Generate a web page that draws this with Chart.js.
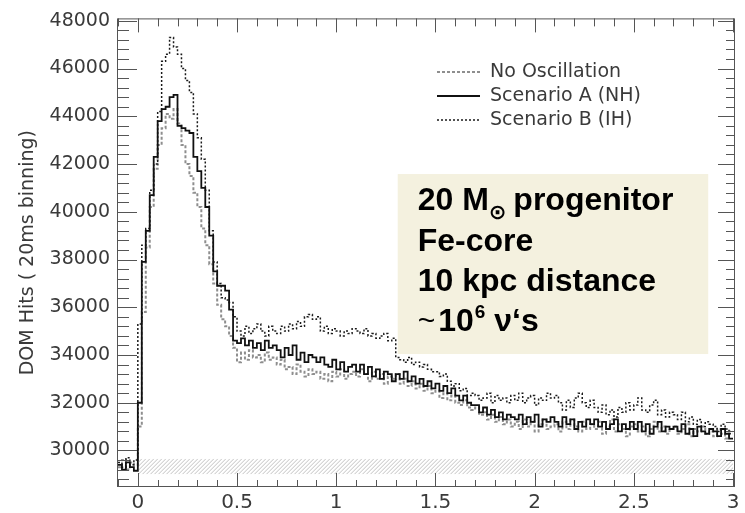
<!DOCTYPE html>
<html>
<head>
<meta charset="utf-8">
<script src="https://cdn.jsdelivr.net/npm/chart.js@4.4.1/dist/chart.umd.min.js"></script>
<style>
  html, body { margin: 0; padding: 0; background: #fff; }
</style>
</head>
<body>
<canvas id="domHitsChart" width="745" height="513"></canvas>
<script>
const binStart = -0.1;
const binWidth = 0.02;
const binEnd = 3.0;

const noOscillation = [
  29300, 29600, 29200, 29500, 29400, 31000, 35800, 38500, 40200, 41800,
  42800, 43500, 44100, 43900, 44300, 43700, 42800, 42000, 41500, 40800,
  40200, 39300, 38600, 37800, 37000, 36100, 35500, 35200, 34800, 34300,
  33700, 34100, 33800, 34200, 33900, 34000, 33700, 34100, 33800, 33900,
  33600, 33800, 33400, 33500, 33200, 33600, 33300, 33100, 33400, 33200,
  33300, 33000, 33200, 32900, 33300, 33100, 33400, 33000, 33200, 33300,
  33100, 33400, 33200, 32900, 33300, 33000, 33200, 32800, 33100, 33000,
  33200, 32800, 33000, 32700, 32900, 32600, 32800, 32500, 32700, 32400,
  32500, 32200, 32400, 32100, 32300, 32000, 31900, 32100, 31800, 31700,
  31800, 31500, 31600, 31300, 31500, 31200, 31400, 31100, 31300, 31000,
  31200, 30900, 31300, 31000, 31200, 30800, 31100, 31300, 30900, 31000,
  31100, 30800, 31200, 30900, 31300, 31000, 30800, 31200, 30900, 31100,
  30900, 31200, 30700, 31000, 31300, 30800, 31100, 30900, 30600, 31000,
  31100, 30800, 31000, 30600, 30900, 31200, 30800, 31000, 30700, 30900,
  31000, 30700, 30900, 31100, 30600, 30900, 30800, 31000, 30700, 30800,
  30600, 30900, 30700, 30500, 30800
];

const scenarioA = [
  29400, 29200, 29500, 29300, 29150, 32000, 37900, 39200, 40700, 42300,
  43800, 44300, 44400, 44800, 44900, 43600, 43500, 43400, 43300, 42300,
  41700, 41000, 40200, 39000, 37500, 36900, 36900, 36700, 35900, 34600,
  34500, 34700, 34400, 34600, 34300, 34500, 34200, 34600, 34300, 34400,
  34200, 33900, 34300, 34000, 34400, 33800, 34100, 33700, 34000, 33900,
  33700, 33900, 33600, 33500, 33800, 33400, 33700, 33300, 33500, 33600,
  33300, 33600, 33200, 33500, 33100, 33400, 33000, 33300, 33200, 32900,
  33200, 33000, 33300, 32900, 33100, 32800, 33000, 32700, 32900, 32600,
  32800, 32500, 32700, 32400, 32600, 32300, 32100, 32300, 32000, 31900,
  31900, 31600, 31800, 31500, 31700, 31400, 31600, 31300, 31500, 31400,
  31300, 31500, 31100, 31400, 31200, 31500, 31000, 31300, 31200, 31400,
  31200, 31000, 31400, 31100, 31300, 30900, 31200, 31000, 31300, 31100,
  31300, 31000, 31200, 30900, 31100, 31300, 30800, 31100, 30900, 31200,
  30900, 31200, 30800, 31100, 30700, 31000, 31200, 30800, 31000, 30900,
  31000, 30800, 31100, 30700, 30900, 30600, 31000, 30800, 30700, 30900,
  30800, 30600, 30900, 30700, 30500
];

const scenarioB = [
  29500, 29300, 29700, 29400, 29600, 35300, 38600, 39300, 40900, 42000,
  44200, 46300, 46600, 47300, 46900, 46600, 46000, 45500, 45000, 44100,
  43100, 42200, 40900, 39200, 37900, 37000, 36400, 36300, 36200, 35600,
  35000, 34800, 35200, 34900, 35100, 35300, 35000, 34800, 35200, 35000,
  34900, 35200, 35000, 35300, 35100, 35400, 35200, 35600, 35700, 35500,
  35600, 35000, 35200, 34900, 35100, 35000, 34800, 35000, 34900, 35100,
  35000, 34900, 35100, 34800, 34900, 34700, 34800, 34900, 34600, 34700,
  33900, 33800, 33700, 33900, 33600, 33700, 33500, 33600, 33400, 33300,
  33300, 33100, 33200, 32900, 32700, 32800, 32500, 32600, 32300, 32400,
  32300, 32100, 32200, 32400, 32000, 32300, 32100, 32200, 32000, 32300,
  32100, 32400, 32000, 32200, 32300, 31900, 32200, 32100, 32400, 32200,
  32300, 32000, 31700, 32100, 31800, 32200, 32400, 32000, 31800, 32100,
  31800, 31600, 31900, 31500, 31700, 31400, 31800, 31600, 32000, 31700,
  31900, 32200, 31700, 31600, 31900, 32100, 31500, 31700, 31400, 31600,
  31500, 31300, 31600, 31200, 31400, 31100, 31300, 31000, 31200, 31100,
  31000, 30800, 31100, 30900, 30700
];

const seriesLabels = ['No Oscillation', 'Scenario A (NH)', 'Scenario B (IH)'];
const xTickValues = [0, 0.5, 1, 1.5, 2, 2.5, 3];
const yTickValues = [30000, 32000, 34000, 36000, 38000, 40000, 42000, 44000, 46000, 48000];
const yAxisTitle = 'DOM Hits ( 20ms binning)';
// shaded band near the bottom (x range and hit range)
const bandX = [0, 3];
const bandY = [29000, 29650];

// histogram points: left bin edges plus a closing point at the end
function toSteps(values) {
  const pts = values.map((v, i) => ({ x: binStart + i * binWidth, y: v }));
  pts.push({ x: binEnd, y: values[values.length - 1] });
  return pts;
}

const hatchPlugin = {
  id: 'hatchBand',
  beforeDatasetsDraw(chart) {
    const { ctx, scales: { x, y } } = chart;
    const left = x.getPixelForValue(bandX[0]);
    const right = x.getPixelForValue(bandX[1]);
    const top = y.getPixelForValue(bandY[1]);
    const bottom = y.getPixelForValue(bandY[0]);
    const h = bottom - top;
    ctx.save();
    ctx.beginPath();
    ctx.rect(left, top, right - left, h);
    ctx.clip();
    ctx.strokeStyle = 'rgba(120,120,120,0.45)';
    ctx.lineWidth = 1;
    ctx.beginPath();
    for (let px = left - h; px < right; px += 4) {
      ctx.moveTo(px, bottom);
      ctx.lineTo(px + h, top);
    }
    ctx.stroke();
    ctx.restore();
  }
};

const noteBox = {
  id: 'noteBox',
  afterDatasetsDraw(chart) {
    const { ctx, scales: { x, y } } = chart;
    const left = x.getPixelForValue(1.31);
    const right = x.getPixelForValue(2.875);
    const top = y.getPixelForValue(41580);
    const bottom = y.getPixelForValue(34040);
    ctx.save();
    ctx.fillStyle = '#f4f1df';
    ctx.fillRect(left, top, right - left, bottom - top);

    const bold = 'bold 32px "Liberation Sans", Arial, sans-serif';
    const tx = left + 20;
    ctx.fillStyle = '#000';
    ctx.textBaseline = 'alphabetic';

    // line 1: 20 M(sun) progenitor
    let cx = tx, base = top + 36;
    ctx.font = bold;
    ctx.fillText('20 M', cx, base);
    cx += ctx.measureText('20 M').width;
    ctx.font = 'bold 21px "DejaVu Sans", sans-serif';
    ctx.fillText('\u2299', cx, base + 9);
    cx += ctx.measureText('\u2299').width - 2;
    ctx.font = bold;
    ctx.fillText(' progenitor', cx, base);

    ctx.fillText('Fe-core', tx, top + 77);
    ctx.fillText('10 kpc distance', tx, top + 117);

    // line 4: ~ 10^6 nu's
    cx = tx; base = top + 157;
    ctx.font = '30px "Liberation Sans", Arial, sans-serif';
    ctx.fillText('~', cx, base - 1);
    cx += ctx.measureText('~').width + 3;
    ctx.font = bold;
    ctx.fillText('10', cx, base);
    cx += ctx.measureText('10').width + 1;
    ctx.font = 'bold 19px "Liberation Sans", Arial, sans-serif';
    ctx.fillText('6', cx, base - 13);
    cx += ctx.measureText('6').width;
    ctx.font = bold;
    ctx.fillText(' \u03bd\u2018s', cx, base);
    ctx.restore();
  }
};

const legendLines = {
  id: 'legendLines',
  afterDatasetsDraw(chart) {
    const { ctx } = chart;
    seriesLabels.forEach((label, i) => {
      const ds = chart.data.datasets[i];
      const yy = 72 + i * 24;
      ctx.save();
      ctx.strokeStyle = ds.borderColor;
      ctx.lineWidth = ds.borderWidth;
      ctx.setLineDash(ds.borderDash || []);
      ctx.beginPath();
      ctx.moveTo(437, yy);
      ctx.lineTo(480, yy);
      ctx.stroke();
      ctx.setLineDash([]);
      ctx.fillStyle = '#3a3a3a';
      ctx.font = '19px "DejaVu Sans", sans-serif';
      ctx.textBaseline = 'middle';
      ctx.fillText(label, 490, yy);
      ctx.restore();
    });
  }
};

// ROOT-style frame with inward ticks on all four sides
const framePlugin = {
  id: 'frame',
  afterDraw(chart) {
    const { ctx, chartArea: a, scales: { x, y } } = chart;
    ctx.save();
    ctx.strokeStyle = '#555';
    ctx.lineWidth = 1;
    ctx.strokeRect(a.left + 0.5, a.top + 0.5, a.right - a.left - 1, a.bottom - a.top - 1);
    ctx.beginPath();
    for (let v = 28800; v <= 48000; v += 400) {
      const py = Math.round(y.getPixelForValue(v)) + 0.5;
      const major = v % 2000 === 0;
      ctx.moveTo(a.left, py);
      ctx.lineTo(a.left + (major ? 20 : 12), py);
      ctx.moveTo(a.right, py);
      ctx.lineTo(a.right - (major ? 17 : 9), py);
    }
    for (let i = -1; i <= 30; i++) {
      const px = Math.round(x.getPixelForValue(i / 10)) + 0.5;
      const major = i % 5 === 0;
      ctx.moveTo(px, a.bottom);
      ctx.lineTo(px, a.bottom - (major ? 14 : 7));
      ctx.moveTo(px, a.top);
      ctx.lineTo(px, a.top + (major ? 14 : 8));
    }
    ctx.stroke();
    ctx.restore();
  }
};

const ctx = document.getElementById('domHitsChart').getContext('2d');

const domHitsChart = new Chart(ctx, {
  type: 'line',
  data: {
    datasets: [
      {
        label: seriesLabels[0],
        data: toSteps(noOscillation),
        borderColor: '#8e8e8e',
        borderWidth: 2,
        borderDash: [3, 2],
        order: 2
      },
      {
        label: seriesLabels[1],
        data: toSteps(scenarioA),
        borderColor: '#111',
        borderWidth: 1.8,
        order: 0
      },
      {
        label: seriesLabels[2],
        data: toSteps(scenarioB),
        borderColor: '#1a1a1a',
        borderWidth: 1.5,
        borderDash: [2, 2],
        order: 1
      }
    ]
  },
  options: {
    responsive: false,
    animation: false,
    events: [],
    layout: { padding: { top: 13, right: 10, left: 0, bottom: 0 } },
    elements: {
      point: { radius: 0 },
      line: { stepped: true, fill: false, tension: 0 }
    },
    plugins: {
      legend: { display: false },
      tooltip: { enabled: false }
    },
    scales: {
      x: {
        type: 'linear',
        min: -0.105,
        max: 3.01,
        afterBuildTicks: s => { s.ticks = xTickValues.map(v => ({ value: v })); },
        afterFit: s => { s.height = 26; },
        grid: { display: false, drawTicks: false },
        border: { display: false },
        ticks: {
          color: '#3a3a3a',
          font: { family: 'DejaVu Sans', size: 20 },
          padding: 4,
          maxRotation: 0,
          autoSkip: false,
          callback: v => String(v)
        }
      },
      y: {
        type: 'linear',
        min: 28470,
        max: 48100,
        afterBuildTicks: s => { s.ticks = yTickValues.map(v => ({ value: v })); },
        afterFit: s => { s.width = 117; },
        grid: { display: false, drawTicks: false },
        border: { display: false },
        title: {
          display: true,
          text: yAxisTitle,
          color: '#3a3a3a',
          font: { family: 'DejaVu Sans', size: 19 },
          padding: { top: 17, bottom: 0 }
        },
        ticks: {
          color: '#3a3a3a',
          font: { family: 'DejaVu Sans', size: 19 },
          padding: 7,
          autoSkip: false,
          callback: v => String(v)
        }
      }
    }
  },
  plugins: [hatchPlugin, noteBox, legendLines, framePlugin]
});
</script>
</body>
</html>
